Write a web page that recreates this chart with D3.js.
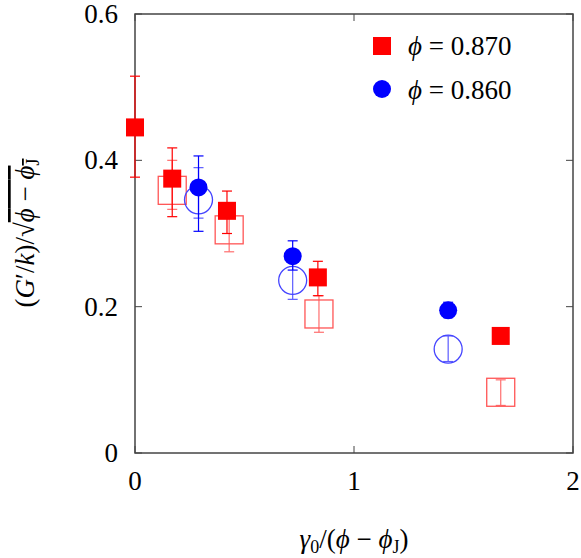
<!DOCTYPE html><html><head><script src="https://cdn.jsdelivr.net/npm/d3@7"></script>
<style>body{margin:0;background:#fff}</style></head><body><svg id="c" width="581" height="558"></svg>
<script>
const xTicks=[0,1,2], yTicks=[0,0.2,0.4,0.6];
const redX=[0,0.17,0.42,0.835,1.67], redY=[0.445,0.375,0.331,0.24,0.16], redLo=[0.377,0.323,0.30,0.215,0.15], redHi=[0.515,0.417,0.358,0.262,0.17];
const redOX=[0.17,0.43,0.84,1.67], redOY=[0.359,0.305,0.19,0.083], redOLo=[0.333,0.275,0.165,0.065], redOHi=[0.40,0.33,0.215,0.10];
const bluX=[0.29,0.72,1.43], bluY=[0.363,0.269,0.195], bluLo=[0.303,0.25,0.185], bluHi=[0.406,0.29,0.206];
const bluOX=[0.29,0.72,1.43], bluOY=[0.346,0.236,0.142], bluOLo=[0.321,0.21,0.125], bluOHi=[0.39,0.26,0.16];
const svg=d3.select("#c");
const x=d3.scaleLinear().domain([0,2]).range([135,573]);
const y=d3.scaleLinear().domain([0,0.6]).range([453,14]);
const f="'Liberation Serif','DejaVu Serif',serif";
svg.append("rect").attr("x",135).attr("y",14).attr("width",438).attr("height",439).attr("fill","none").attr("stroke","#444").attr("stroke-width",1.5);
xTicks.forEach(t=>{svg.append("line").attr("x1",x(t)).attr("x2",x(t)).attr("y1",453).attr("y2",446).attr("stroke","#444");svg.append("line").attr("x1",x(t)).attr("x2",x(t)).attr("y1",14).attr("y2",21).attr("stroke","#444");
svg.append("text").attr("x",x(t)).attr("y",490).attr("text-anchor","middle").attr("font-family",f).attr("font-size",27).text(t);});
yTicks.forEach(t=>{svg.append("line").attr("x1",135).attr("x2",142).attr("y1",y(t)).attr("y2",y(t)).attr("stroke","#444");svg.append("line").attr("x1",573).attr("x2",566).attr("y1",y(t)).attr("y2",y(t)).attr("stroke","#444");
svg.append("text").attr("x",118).attr("y",y(t)+9).attr("text-anchor","end").attr("font-family",f).attr("font-size",27).text(t===0?"0":t.toFixed(1));});
function err(X,Lo,Hi,c,op){X.forEach((v,i)=>{const g=svg.append("g").attr("stroke",c).attr("opacity",op).attr("stroke-width",1.2);
g.append("line").attr("x1",x(v)).attr("x2",x(v)).attr("y1",y(Lo[i])).attr("y2",y(Hi[i]));
[Lo[i],Hi[i]].forEach(e=>g.append("line").attr("x1",x(v)-5).attr("x2",x(v)+5).attr("y1",y(e)).attr("y2",y(e)));});}
err(redOX,redOLo,redOHi,"#f33",0.7);err(bluOX,bluOLo,bluOHi,"#33f",0.8);
redOX.forEach((v,i)=>svg.append("rect").attr("x",x(v)-14).attr("y",y(redOY[i])-14).attr("width",28).attr("height",28).attr("fill","none").attr("stroke","#f55").attr("stroke-width",1.3));
bluOX.forEach((v,i)=>svg.append("circle").attr("cx",x(v)).attr("cy",y(bluOY[i])).attr("r",14).attr("fill","none").attr("stroke","#44f").attr("stroke-width",1.3));
err(redX,redLo,redHi,"#f00",1);err(bluX,bluLo,bluHi,"#00f",1);
redX.forEach((v,i)=>svg.append("rect").attr("x",x(v)-9).attr("y",y(redY[i])-9).attr("width",18).attr("height",18).attr("fill","#f00"));
bluX.forEach((v,i)=>svg.append("circle").attr("cx",x(v)).attr("cy",y(bluY[i])).attr("r",9).attr("fill","#00f"));
svg.append("rect").attr("x",373).attr("y",37).attr("width",18).attr("height",18).attr("fill","#f00");
svg.append("circle").attr("cx",382).attr("cy",89).attr("r",9).attr("fill","#00f");
[["0.870",55],["0.860",99]].forEach(([s,yy])=>svg.append("text").attr("x",408).attr("y",yy).attr("font-family",f).attr("font-size",27).html(`<tspan font-style="italic">ϕ</tspan> = ${s}`));
svg.append("text").attr("x",354).attr("y",548).attr("text-anchor","middle").attr("font-family",f).attr("font-size",27).html(`<tspan font-style="italic">γ</tspan><tspan font-size="18" dy="5">0</tspan><tspan dy="-5">/(</tspan><tspan font-style="italic">ϕ</tspan> − <tspan font-style="italic">ϕ</tspan><tspan font-size="18" dy="5">J</tspan><tspan dy="-5">)</tspan>`);
svg.append("text").attr("transform","translate(34,233) rotate(-90)").attr("text-anchor","middle").attr("font-family",f).attr("font-size",27)
.html(`(<tspan font-style="italic">G</tspan>′/<tspan font-style="italic">k</tspan>)/√<tspan text-decoration="overline"><tspan font-style="italic">ϕ</tspan> − <tspan font-style="italic">ϕ</tspan><tspan font-size="18" dy="5">J</tspan></tspan>`);
</script></body></html>
